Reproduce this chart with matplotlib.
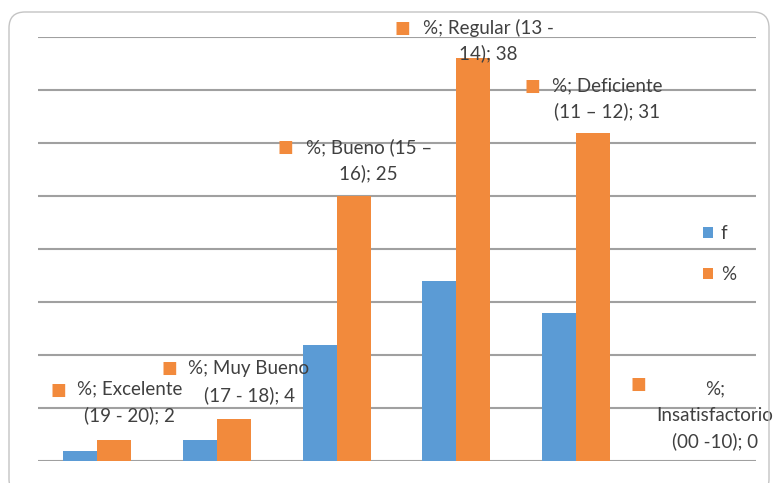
import numpy as np
import matplotlib.pyplot as plt
from matplotlib.patches import FancyBboxPatch

categories = ["Excelente (19 - 20)", "Muy Bueno (17 - 18)", "Bueno (15 \u2013 16)",
              "Regular (13 - 14)", "Deficiente (11 \u2013 12)", "Insatisfactorio (00 -10)"]
f_vals = [1, 2, 11, 17, 14, 0]
pct_vals = [2, 4, 25, 38, 31, 0]

# data label text, wrapped the way the spreadsheet wrapped it
label_lines = [
    ["%; Excelente", "(19 - 20); 2"],
    ["%; Muy Bueno", "(17 - 18); 4"],
    ["%; Bueno (15 \u2013", "16); 25"],
    ["%; Regular (13 -", "14); 38"],
    ["%; Deficiente", "(11 \u2013 12); 31"],
    ["%;", "Insatisfactorio", "(00 -10); 0"],
]
# offsets in pixels from the top centre of each orange bar
text_off = [(15, 51), (15, 50), (15, 49), (15, 31), (14, 47), (2, 72)]
key_off = [(-56, 50), (-65, 51), (-68, 49), (-71, 31), (-61, 47), (-74, 77)]

blue = "#5b9bd5"
orange = "#f28a3c"
font = "Lato"

fig = plt.figure(figsize=(7.76, 4.83), dpi=100)
ax = fig.add_axes([37.5 / 776, 1 - 461.3 / 483, 718 / 776, (461.3 - 37.3) / 483])

x = np.arange(len(categories))
w = 0.285
ax.bar(x - w / 2, f_vals, w, color=blue, label="f", zorder=3)
bars = ax.bar(x + w / 2, pct_vals, w, color=orange, label="%", zorder=3)

ax.set_xlim(-0.5, len(categories) - 0.5)
ax.set_ylim(0, 40)
ax.set_yticks(np.arange(0, 41, 5))
ax.yaxis.grid(True, color="#a0a0a0", linewidth=1.5, zorder=0)
ax.tick_params(left=False, bottom=False, labelleft=False, labelbottom=False)
for s in ax.spines.values():
    s.set_visible(False)

for i, b in enumerate(bars):
    bx = b.get_x() + b.get_width() / 2
    by = b.get_height()
    tx, ty = text_off[i]
    for j, line in enumerate(label_lines[i]):
        ax.annotate(line, (bx, by), xytext=(tx, ty - 26 * j), textcoords="offset pixels",
                    ha="center", va="center", fontsize=13.5, family=font,
                    color="#404040", zorder=5, annotation_clip=False)
    kx, ky = key_off[i]
    ax.annotate("\u25a0", (bx, by), xytext=(kx, ky), textcoords="offset pixels",
                ha="center", va="center", fontsize=12, color=orange,
                zorder=5, annotation_clip=False)

ax.legend(loc="upper left", bbox_to_anchor=(686 / 776, 1 - 208 / 483),
          bbox_transform=fig.transFigure, frameon=False,
          prop={"family": font, "size": 13.5}, handlelength=0.55, handleheight=0.55,
          handletextpad=0.4, labelspacing=1.3, labelcolor="#404040")

# rounded chart-area border
frame = FancyBboxPatch((9, -12), 760, 483 - 12 + 12, boxstyle="round,pad=0,rounding_size=16",
                       transform=None, facecolor="none", edgecolor="#c4c4c4", linewidth=1.0)
fig.patches.append(frame)

fig.savefig("out.png", dpi=100)
